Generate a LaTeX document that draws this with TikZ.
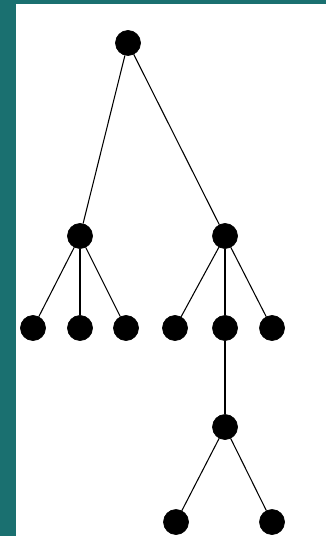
\documentclass[tikz,border=0pt]{standalone}
\usepackage{tikz}
\usetikzlibrary{positioning}
\definecolor{frameteal}{RGB}{26,112,112}
\tikzset{
    dot/.style  = {circle, fill=black, draw=black, minimum size=0.5cm, inner sep=0pt},
    edge/.style = {draw=black, line width=0.6pt}
}
\begin{document}
\begin{tikzpicture}[x=0.02cm, y=-0.02cm]
        % Frame
        \fill[frameteal] (0,0) rectangle (326,536);
        \fill[white] (16,4) rectangle (326,536);
        \useasboundingbox (0,0) rectangle (326,536);

        % Root
        \node[dot] (root) at (128, 43) {};

        % Second level
        \node[dot] (l) at (80, 236) {};
        \node[dot] (r) at (225, 236) {};

        % Third level
        \node[dot] (l1) at (33, 328) {};
        \node[dot] (l2) at (80, 328) {};
        \node[dot] (l3) at (126, 328) {};
        \node[dot] (r1) at (175, 328) {};
        \node[dot] (r2) at (225, 328) {};
        \node[dot] (r3) at (272, 328) {};

        % Lower branch
        \node[dot] (m) at (225, 427) {};
        \node[dot] (m1) at (176, 522) {};
        \node[dot] (m2) at (272, 522) {};

        % Edges
        \foreach \a/\b in {root/l, root/r, l/l1, l/l2, l/l3, r/r1, r/r2, r/r3, r2/m, m/m1, m/m2}
            \draw[edge] (\a) -- (\b);
    \end{tikzpicture}
\end{document}
